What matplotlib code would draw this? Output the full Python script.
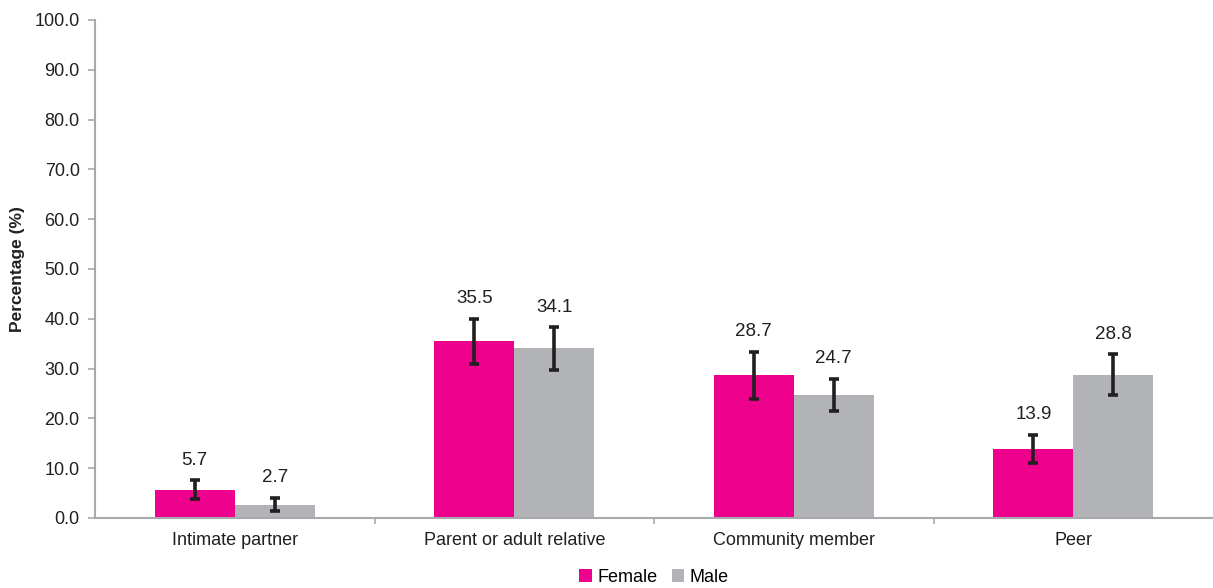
import numpy as np
import matplotlib.pyplot as plt
from matplotlib.ticker import FixedLocator

# Categorías y valores (%)
categories = ["Intimate partner", "Parent or adult relative", "Community member", "Peer"]
female = [5.7, 35.5, 28.7, 13.9]
male = [2.7, 34.1, 24.7, 28.8]

# Límites del intervalo de confianza (inferior, superior)
female_low = [3.8, 31.0, 23.8, 11.1]
female_high = [7.6, 40.0, 33.4, 16.7]
male_low = [1.4, 29.8, 21.5, 24.7]
male_high = [4.1, 38.3, 28.0, 32.9]

plt.rcParams['font.family'] = ['Liberation Sans', 'DejaVu Sans']

fig = plt.figure(figsize=(12.13, 5.88), dpi=100)
ax = fig.add_axes([95 / 1213, 1 - 518 / 588, 1118 / 1213, 498 / 588])

x = np.arange(len(categories))
width = 80 / 280
pink = '#EC008C'
grey = '#B1B3B6'
err_color = '#231F20'

f = np.array(female)
m = np.array(male)
f_err = [f - np.array(female_low), np.array(female_high) - f]
m_err = [m - np.array(male_low), np.array(male_high) - m]

ax.bar(x - width / 2, f, width, color=pink, label='Female', zorder=2)
ax.bar(x + width / 2, m, width, color=grey, label='Male', zorder=2)
ax.errorbar(x - width / 2, f, yerr=f_err, fmt='none', ecolor=err_color,
            elinewidth=2.6, capsize=3.5, capthick=2.6, zorder=3)
ax.errorbar(x + width / 2, m, yerr=m_err, fmt='none', ecolor=err_color,
            elinewidth=2.6, capsize=3.5, capthick=2.6, zorder=3)

# Etiquetas de valores sobre las barras
for xi, v, hi in zip(x - width / 2, female, female_high):
    ax.text(xi, hi + 4.0, f"{v:.1f}", ha='center', va='center', fontsize=13.5, color='#231F20')
for xi, v, hi in zip(x + width / 2, male, male_high):
    ax.text(xi, hi + 4.0, f"{v:.1f}", ha='center', va='center', fontsize=13.5, color='#231F20')

ax.set_xlim(-0.5, len(categories) - 0.5)
ax.set_ylim(0, 100)
ax.set_yticks(np.arange(0, 101, 10))
ax.set_yticklabels([f"{t:.1f}" for t in np.arange(0, 101, 10)], fontsize=13, color='#231F20')
ax.set_xticks(x)
ax.set_xticklabels(categories, fontsize=13, color='#231F20')
ax.xaxis.set_minor_locator(FixedLocator(np.arange(0.5, len(categories) - 1, 1)))
ax.tick_params(axis='x', which='major', length=0, pad=10)
ax.tick_params(axis='x', which='minor', length=4, color='#A7A9AC', width=1.2)
ax.tick_params(axis='y', length=5, color='#A7A9AC', width=1.2, pad=6)
ax.set_ylabel("Percentage (%)", fontsize=12.5, fontweight='bold', color='#231F20')
ax.yaxis.set_label_coords(-0.0626, 0.5)

for side in ['top', 'right']:
    ax.spines[side].set_visible(False)
for side in ['left', 'bottom']:
    ax.spines[side].set_color('#A7A9AC')
    ax.spines[side].set_linewidth(1.5)

ax.legend(loc='upper center', bbox_to_anchor=(0.5, -0.088), ncol=2, frameon=False,
          fontsize=13, handlelength=0.7, handleheight=0.7, handletextpad=0.3,
          columnspacing=0.8, borderaxespad=0)

fig.savefig('out.png', dpi=100)
